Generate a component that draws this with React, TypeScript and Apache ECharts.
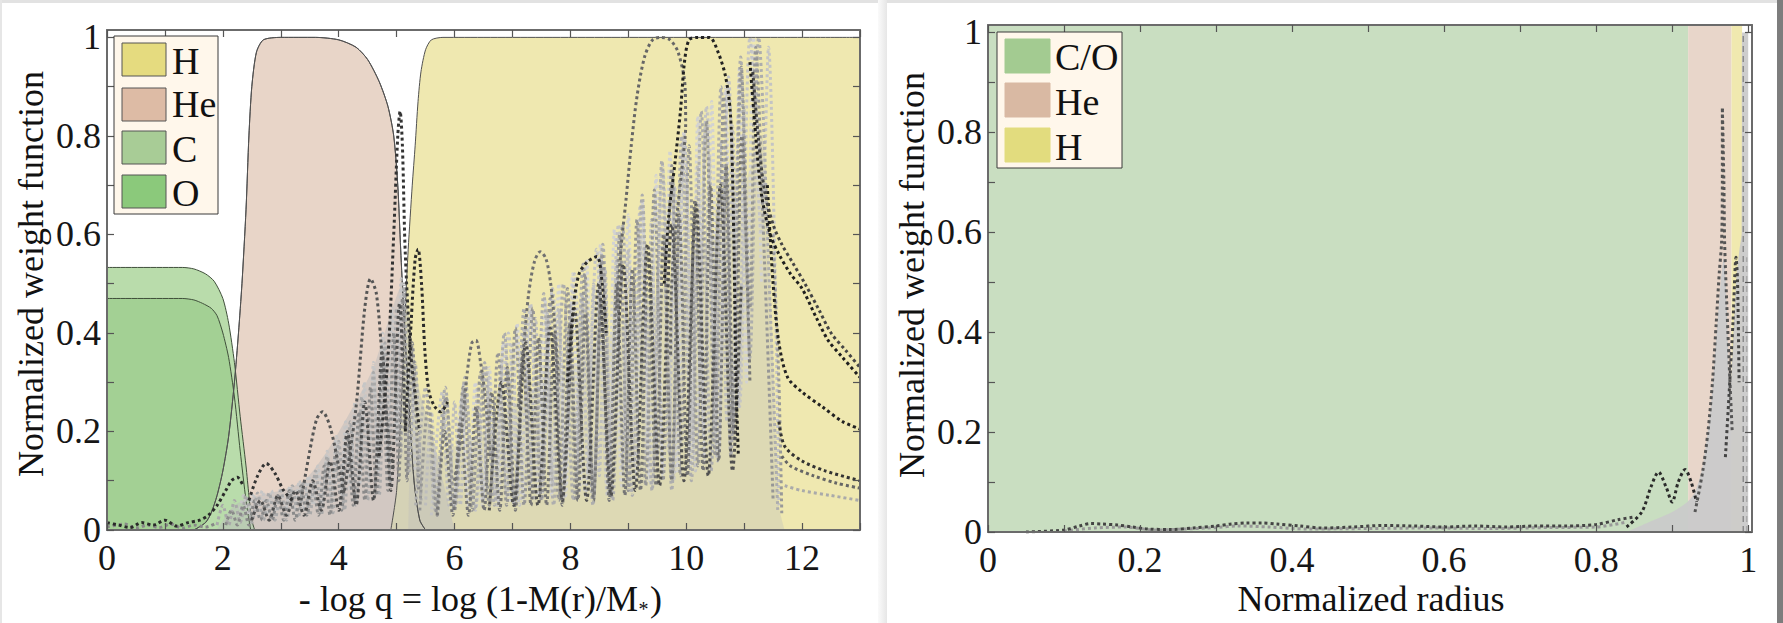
import React, { useEffect, useRef } from "react";
import * as echarts from "echarts";

const FONT = '"Liberation Serif", "Times New Roman", "DejaVu Serif", serif';

// ---------- tick values ----------
const xTicksLeft = [0,1,2,3,4,5,6,7,8,9,10,11,12,13];
const xLabelsLeft = [0,2,4,6,8,10,12];
const tenthTicks = [0,0.1,0.2,0.3,0.4,0.5,0.6,0.7,0.8,0.9,1];
const fifthLabels = [0,0.2,0.4,0.6,0.8,1];

// ---------- Left panel: chemical profiles (x = -log q, y = abundance) ----------
const heProfile = [[1.5,0],[1.7,0.015],[1.8,0.035],[1.9,0.07],[2.0,0.12],[2.1,0.19],[2.2,0.3],[2.27,0.4],[2.33,0.5],[2.4,0.65],[2.45,0.8],[2.5,0.9],[2.58,0.97],[2.7,0.995],[3.0,1.0],[3.6,1.0],[4.0,0.995],[4.3,0.98],[4.5,0.955],[4.7,0.91],[4.85,0.86],[4.95,0.8],[5.02,0.7],[5.07,0.57],[5.12,0.45],[5.2,0.28],[5.3,0.1],[5.4,0.02],[5.5,0]];
const hProfile = [[4.9,0],[5.0,0.08],[5.1,0.3],[5.15,0.45],[5.2,0.57],[5.27,0.7],[5.32,0.78],[5.37,0.87],[5.42,0.93],[5.5,0.975],[5.6,0.995],[5.8,1.0],[13,1.0]];
const cProfile = [[0,0.533],[1.3,0.533],[1.5,0.53],[1.7,0.52],[1.85,0.505],[2.0,0.47],[2.1,0.42],[2.2,0.34],[2.3,0.23],[2.4,0.13],[2.45,0.07],[2.5,0.02],[2.55,0]];
const oProfile = [[0,0.47],[1.3,0.47],[1.5,0.467],[1.65,0.46],[1.8,0.45],[1.9,0.435],[2.0,0.4],[2.1,0.35],[2.2,0.27],[2.3,0.16],[2.4,0.06],[2.48,0]];
const coreOverlap = [[1.5,0],[1.7,0.015],[1.8,0.035],[1.9,0.07],[2.0,0.12],[2.1,0.19],[2.19,0.285],[2.3,0.16],[2.4,0.06],[2.48,0]];

// grey cloud envelopes
const cloudA = [[1.9,0],[2.2,0.05],[2.6,0.07],[3.0,0.08],[3.4,0.1],[3.8,0.16],[4.2,0.24],[4.6,0.33],[4.9,0.44],[5.1,0.5],[5.25,0.4],[5.4,0.28],[5.6,0.2],[5.8,0.1],[6.0,0]];
const cloudB = [[5.2,0],[5.3,0.2],[5.6,0.15],[6.0,0.17],[6.5,0.2],[7.0,0.25],[7.5,0.3],[8.0,0.33],[8.5,0.38],[9.0,0.42],[9.5,0.48],[10.0,0.55],[10.5,0.6],[11.0,0.7],[11.3,0.8],[11.45,0.5],[11.6,0.05],[11.7,0]];

// weight functions, left panel
const wBase = [[0,0.015],[0.2,0.01],[0.4,0.005],[0.6,0.015],[0.8,0.01],[1.0,0.02],[1.2,0.008],[1.4,0.015],[1.6,0.02],[1.75,0.03],[1.9,0.05],[2.05,0.08],[2.15,0.1],[2.25,0.107],[2.35,0.09]];
const wBase2 = [[0,0.006],[0.3,0.012],[0.5,0.004],[0.7,0.01],[0.9,0.005],[1.1,0.012],[1.3,0.004],[1.5,0.01],[1.7,0.006],[1.9,0.015]];
const wA1 = [[1.9,0.01],[2.0,0.05],[2.1,0.01],[2.2,0.06],[2.3,0.015],[2.4,0.07],[2.5,0.015],[2.6,0.075],[2.7,0.02],[2.8,0.075],[2.9,0.02],[3.0,0.08],[3.1,0.02],[3.2,0.09],[3.3,0.025],[3.4,0.1],[3.5,0.03],[3.6,0.12],[3.7,0.03],[3.8,0.15],[3.9,0.035],[4.0,0.18],[4.1,0.04],[4.2,0.22],[4.3,0.05],[4.4,0.27],[4.5,0.06],[4.6,0.32],[4.7,0.07],[4.8,0.38],[4.9,0.09],[5.0,0.45],[5.07,0.15],[5.13,0.5],[5.22,0.12],[5.32,0.34],[5.42,0.06]];
const wA2 = [[2.05,0.01],[2.15,0.04],[2.25,0.01],[2.35,0.05],[2.45,0.01],[2.55,0.06],[2.65,0.02],[2.75,0.06],[2.85,0.02],[2.95,0.07],[3.05,0.02],[3.15,0.08],[3.25,0.02],[3.35,0.09],[3.45,0.03],[3.55,0.1],[3.65,0.03],[3.75,0.13],[3.85,0.03],[3.95,0.16],[4.05,0.04],[4.15,0.19],[4.25,0.05],[4.35,0.24],[4.45,0.06],[4.55,0.29],[4.65,0.07],[4.75,0.34],[4.85,0.08],[4.95,0.4],[5.04,0.1],[5.1,0.47],[5.18,0.1],[5.27,0.38],[5.38,0.08]];
const wA3 = [[2.28,0.03],[2.36,0.07],[2.44,0.03],[2.52,0.075],[2.6,0.03],[2.68,0.08],[2.76,0.03],[2.84,0.08],[2.92,0.03],[3.0,0.085],[3.08,0.04],[3.16,0.09],[3.24,0.04],[3.32,0.1],[3.4,0.04],[3.48,0.11],[3.56,0.05],[3.64,0.13],[3.72,0.05],[3.8,0.16],[3.88,0.06],[3.96,0.19],[4.04,0.07],[4.12,0.22],[4.2,0.08],[4.28,0.26],[4.36,0.09],[4.44,0.3],[4.52,0.1],[4.6,0.34],[4.68,0.12],[4.76,0.4],[4.84,0.14],[4.92,0.45],[5.0,0.18],[5.08,0.51],[5.16,0.2],[5.24,0.36],[5.32,0.12]];
const wA4 = [[2.5,0.02],[2.65,0.06],[2.8,0.02],[2.95,0.07],[3.1,0.03],[3.25,0.08],[3.4,0.03],[3.55,0.1],[3.7,0.04],[3.85,0.14],[4.0,0.04],[4.15,0.2],[4.3,0.05],[4.45,0.26],[4.6,0.06],[4.75,0.36],[4.9,0.08],[5.05,0.46],[5.15,0.2]];
const wHump1 = [[2.45,0.06],[2.6,0.11],[2.75,0.135],[2.9,0.115],[3.05,0.08],[3.2,0.06]];
const wHump2 = [[3.35,0.06],[3.5,0.16],[3.62,0.225],[3.72,0.24],[3.85,0.21],[4.0,0.13],[4.1,0.07]];
const wHump3 = [[4.1,0.08],[4.3,0.25],[4.45,0.45],[4.55,0.51],[4.65,0.48],[4.75,0.35],[4.85,0.2],[4.95,0.12]];
const wSpike5 = [[4.7,0.15],[4.85,0.35],[4.95,0.6],[5.02,0.8],[5.06,0.85],[5.1,0.78],[5.15,0.56],[5.25,0.35],[5.4,0.2]];
const wB1 = [[5.33,0.05],[5.5,0.29],[5.67,0.04],[5.84,0.29],[6.01,0.05],[6.18,0.31],[6.35,0.04],[6.52,0.34],[6.69,0.05],[6.86,0.4],[7.03,0.05],[7.2,0.45],[7.37,0.06],[7.54,0.48],[7.71,0.05],[7.88,0.5],[8.05,0.06],[8.22,0.54],[8.39,0.05],[8.56,0.58],[8.73,0.06],[8.9,0.62],[9.07,0.07],[9.24,0.68],[9.41,0.08],[9.58,0.75],[9.75,0.08],[9.92,0.8],[10.09,0.1],[10.26,0.85],[10.43,0.12],[10.6,0.9],[10.77,0.15],[10.94,0.96],[11.1,0.35],[11.25,1.0],[11.45,0.45],[11.58,0.04]];
const wB2 = [[5.4,0.04],[5.55,0.26],[5.7,0.03],[5.85,0.27],[6.0,0.04],[6.15,0.29],[6.3,0.04],[6.45,0.32],[6.6,0.05],[6.75,0.36],[6.9,0.05],[7.05,0.41],[7.2,0.05],[7.35,0.45],[7.5,0.06],[7.65,0.47],[7.8,0.06],[7.95,0.49],[8.1,0.06],[8.25,0.52],[8.4,0.07],[8.55,0.56],[8.7,0.07],[8.85,0.6],[9.0,0.08],[9.15,0.63],[9.3,0.09],[9.45,0.69],[9.6,0.1],[9.75,0.74],[9.9,0.11],[10.05,0.78],[10.2,0.13],[10.35,0.83],[10.5,0.15],[10.65,0.88],[10.8,0.2],[10.95,0.94],[11.1,0.45],[11.2,0.98],[11.35,0.55],[11.5,0.06]];
const wB3 = [[5.6,0.03],[5.79,0.28],[5.98,0.04],[6.17,0.3],[6.36,0.04],[6.55,0.33],[6.74,0.05],[6.93,0.4],[7.12,0.05],[7.31,0.46],[7.5,0.06],[7.69,0.49],[7.88,0.06],[8.07,0.52],[8.26,0.07],[8.45,0.57],[8.64,0.07],[8.83,0.62],[9.02,0.08],[9.21,0.66],[9.4,0.09],[9.59,0.74],[9.78,0.1],[9.97,0.8],[10.16,0.12],[10.35,0.86],[10.54,0.14],[10.73,0.92],[10.92,0.25],[11.1,1.0],[11.3,0.6],[11.42,0.98],[11.6,0.05]];
const wB4 = [[5.7,0.03],[5.83,0.2],[5.97,0.03],[6.1,0.22],[6.24,0.03],[6.37,0.25],[6.51,0.04],[6.64,0.28],[6.78,0.04],[6.91,0.33],[7.05,0.04],[7.18,0.36],[7.32,0.05],[7.45,0.39],[7.59,0.05],[7.72,0.4],[7.86,0.05],[7.99,0.42],[8.13,0.06],[8.26,0.44],[8.4,0.06],[8.53,0.47],[8.67,0.06],[8.8,0.5],[8.94,0.07],[9.07,0.53],[9.21,0.08],[9.34,0.56],[9.48,0.09],[9.61,0.6],[9.75,0.1],[9.88,0.64],[10.02,0.11],[10.15,0.67],[10.29,0.12],[10.42,0.7],[10.56,0.14],[10.69,0.74],[10.83,0.18],[10.96,0.8],[11.1,0.3]];
const wB5 = [[6.6,0.04],[6.81,0.3],[7.02,0.05],[7.23,0.38],[7.44,0.05],[7.65,0.41],[7.86,0.06],[8.07,0.45],[8.28,0.06],[8.49,0.5],[8.7,0.07],[8.91,0.54],[9.12,0.08],[9.33,0.58],[9.54,0.09],[9.75,0.62],[9.96,0.1],[10.17,0.66],[10.38,0.11],[10.59,0.7],[10.8,0.12],[10.95,0.5]];
const wB6 = [[6.0,0.05],[6.12,0.27],[6.24,0.05],[6.36,0.3],[6.48,0.05],[6.6,0.33],[6.72,0.06],[6.84,0.38],[6.96,0.06],[7.08,0.42],[7.2,0.06],[7.32,0.45],[7.44,0.07],[7.56,0.47],[7.68,0.07],[7.8,0.5],[7.92,0.07],[8.04,0.52],[8.16,0.08],[8.28,0.55],[8.4,0.08],[8.52,0.58],[8.64,0.09],[8.76,0.61],[8.88,0.09],[9.0,0.64],[9.12,0.1],[9.24,0.67],[9.36,0.1],[9.48,0.72],[9.6,0.11],[9.72,0.77],[9.84,0.12],[9.96,0.81],[10.08,0.13],[10.2,0.84],[10.32,0.14],[10.44,0.87],[10.56,0.16],[10.68,0.9],[10.8,0.2],[10.92,0.94],[11.04,0.3],[11.16,1.0],[11.3,0.5]];
const wB7 = [[5.5,0.05],[5.6,0.24],[5.7,0.05],[5.8,0.25],[5.9,0.05],[6.0,0.26],[6.1,0.05],[6.2,0.28],[6.3,0.06],[6.4,0.29],[6.5,0.06],[6.6,0.31],[6.7,0.07],[6.8,0.34],[6.9,0.07],[7.0,0.38],[7.1,0.08],[7.2,0.41],[7.3,0.08],[7.4,0.43],[7.5,0.09],[7.6,0.44],[7.7,0.09],[7.8,0.45],[7.9,0.1],[8.0,0.46],[8.1,0.1],[8.2,0.48],[8.3,0.11],[8.4,0.5],[8.5,0.11],[8.6,0.53],[8.7,0.12],[8.8,0.55],[8.9,0.12],[9.0,0.57],[9.1,0.13],[9.2,0.59],[9.3,0.14],[9.4,0.63],[9.5,0.15],[9.6,0.67],[9.7,0.16],[9.8,0.7],[9.9,0.17],[10.0,0.72],[10.1,0.18],[10.2,0.74],[10.3,0.19],[10.4,0.76],[10.5,0.2],[10.6,0.79],[10.7,0.22],[10.8,0.82],[10.9,0.25],[11.0,0.86]];
const wPeak54 = [[5.15,0.2],[5.25,0.42],[5.32,0.55],[5.37,0.57],[5.43,0.5],[5.49,0.36],[5.56,0.28],[5.66,0.25],[5.76,0.24],[5.88,0.26]];
const wPeak64 = [[6.0,0.1],[6.12,0.2],[6.22,0.32],[6.3,0.38],[6.37,0.385],[6.45,0.34],[6.52,0.28],[6.62,0.15]];
const wPeak75 = [[7.1,0.25],[7.2,0.38],[7.28,0.48],[7.38,0.545],[7.48,0.565],[7.58,0.55],[7.66,0.5],[7.72,0.43],[7.8,0.3]];
const wPeak84 = [[7.95,0.3],[8.05,0.45],[8.15,0.52],[8.3,0.545],[8.46,0.555],[8.55,0.5],[8.62,0.4]];
const wArch1 = [[8.8,0.45],[8.88,0.58],[8.96,0.67],[9.05,0.78],[9.15,0.88],[9.28,0.96],[9.42,0.995],[9.57,1.0],[9.72,0.995],[9.86,0.97],[9.98,0.9],[9.99,0.82],[9.93,0.74],[9.85,0.65],[9.78,0.56],[9.74,0.47],[9.73,0.35]];
const wArch2 = [[9.62,0.5],[9.7,0.64],[9.8,0.74],[9.9,0.85],[9.97,0.95],[10.05,0.995],[10.2,1.0],[10.4,1.0],[10.55,0.97],[10.68,0.92],[10.76,0.85],[10.8,0.72],[10.82,0.6],[10.84,0.45],[10.86,0.3],[10.9,0.15]];
const wTail1 = [[11.1,0.95],[11.2,0.8],[11.3,0.68],[11.45,0.6],[11.6,0.56],[11.8,0.52],[12.0,0.49],[12.25,0.43],[12.45,0.385],[12.7,0.35],[13.0,0.31]];
const wTail1b = [[11.15,0.93],[11.25,0.79],[11.35,0.69],[11.5,0.62],[11.65,0.58],[11.85,0.54],[12.05,0.5],[12.3,0.445],[12.5,0.4],[12.75,0.365],[13.0,0.33]];
const wTail2 = [[11.4,0.7],[11.5,0.5],[11.6,0.38],[11.75,0.31],[12.0,0.28],[12.35,0.25],[12.7,0.22],[13.0,0.205]];
const wTail3 = [[11.6,0.22],[11.7,0.17],[12.0,0.14],[12.4,0.12],[13.0,0.1]];
const wTail4 = [[11.65,0.15],[11.8,0.13],[12.2,0.11],[12.6,0.095],[13.0,0.085]];
const wTail5 = [[11.7,0.09],[12.0,0.08],[12.5,0.07],[13.0,0.06]];
const wEdge = [[11.5,0.6],[11.55,0.45],[11.6,0.3],[11.63,0.15],[11.65,0.03]];

// ---------- Right panel (x = normalized radius) ----------
const coZone = [[0,1.015],[0.921,1.015]];
const heZone = [[0.921,1.015],[0.978,1.015]];
const hZone = [[0.978,1.015],[0.992,1.015]];
const rCloud = [[0.84,0],[0.87,0.02],[0.9,0.04],[0.92,0.06],[0.93,0.08],[0.94,0.13],[0.95,0.24],[0.955,0.33],[0.96,0.43],[0.965,0.52],[0.968,0.55],[0.972,0.45],[0.976,0.27],[0.98,0.38],[0.984,0.5],[0.988,0.56],[0.9915,0.6],[0.992,1.0],[1.0,1.0]];
const rBase1 = [[0.05,0.0],[0.1,0.004],[0.12,0.012],[0.135,0.017],[0.15,0.016],[0.17,0.014],[0.19,0.01],[0.21,0.006],[0.24,0.005],[0.27,0.008],[0.3,0.012],[0.32,0.016],[0.34,0.018],[0.36,0.018],[0.38,0.016],[0.41,0.012],[0.44,0.008],[0.48,0.01],[0.52,0.013],[0.56,0.012],[0.6,0.01],[0.64,0.012],[0.68,0.01],[0.72,0.012],[0.76,0.012],[0.8,0.015],[0.83,0.025],[0.85,0.03]];
const rBase2 = [[0.1,0.002],[0.14,0.008],[0.18,0.01],[0.22,0.004],[0.26,0.006],[0.3,0.009],[0.33,0.012],[0.37,0.01],[0.42,0.006],[0.5,0.007],[0.58,0.008],[0.66,0.007],[0.74,0.009],[0.8,0.01],[0.84,0.02]];
const rHumps = [[0.84,0.01],[0.86,0.04],[0.872,0.09],[0.882,0.12],[0.892,0.09],[0.9,0.06],[0.908,0.1],[0.917,0.125],[0.925,0.1],[0.932,0.06]];
const rSpike = [[0.93,0.04],[0.94,0.12],[0.947,0.2],[0.953,0.3],[0.958,0.42],[0.962,0.52],[0.965,0.58],[0.966,0.7],[0.966,0.85],[0.968,0.7],[0.969,0.58],[0.972,0.45],[0.976,0.3],[0.979,0.2]];
const rNear = [[0.97,0.15],[0.975,0.28],[0.98,0.42],[0.984,0.55],[0.986,0.5],[0.988,0.3]];
const rEdge = [[0.9935,0.0],[0.9935,1.0]];
const rEdge2 = [[0.998,0.0],[0.998,0.55]];

const leftLegend = [
  { name: "H", color: "#E5DB7F" },
  { name: "He", color: "#DDBBA5" },
  { name: "C", color: "#A8CC96" },
  { name: "O", color: "#8BC97B" },
];
const rightLegend = [
  { name: "C/O", color: "#A3CB91" },
  { name: "He", color: "#D9B9A3" },
  { name: "H", color: "#E2DC7E" },
];

const evenFmt = (v: number) => (Math.abs(v - Math.round(v)) < 1e-6 && Math.round(v) % 2 === 0 && v < 12.5 ? String(Math.round(v)) : "");
const tenthFmt = (v: number) => {
  const k = Math.round(v * 10);
  if (Math.abs(v * 10 - k) > 1e-6 || k % 2 !== 0 || k > 10) return "";
  return k === 0 ? "0" : k === 10 ? "1" : "0." + k;
};

const TICK_FONT = 36;

function mkX(g: number, max: number, interval: number, position: string, labels: boolean, fmt: any, ticks: number[], labelVals: number[]) {
  return {
    type: "value", gridIndex: g, min: 0, max, interval, position, z: 10,
    axisLine: { show: true, onZero: false, lineStyle: { color: "#6b6b6b", width: 2 } },
    axisTick: { show: true, inside: true, length: 7, customValues: ticks, lineStyle: { color: "#555", width: 1.2 } },
    axisLabel: { show: labels, formatter: fmt, customValues: labelVals, fontFamily: FONT, fontSize: TICK_FONT, lineHeight: 36, color: "#161616", margin: 10 },
    splitLine: { show: false },
  };
}
function mkY(g: number, position: string, labels: boolean) {
  return {
    type: "value", gridIndex: g, min: 0, max: 1.015, interval: 0.1, position, z: 10,
    axisLine: { show: true, onZero: false, lineStyle: { color: "#6b6b6b", width: 2 } },
    axisTick: { show: true, inside: true, length: 7, customValues: tenthTicks, lineStyle: { color: "#555", width: 1.2 } },
    axisLabel: { show: labels, formatter: tenthFmt, customValues: fifthLabels, fontFamily: FONT, fontSize: TICK_FONT, color: "#161616", margin: 6 },
    splitLine: { show: false },
  };
}

function fill(data: any, color: string, ax: number, edge?: string, opacity = 1) {
  return {
    type: "line", data, xAxisIndex: ax, yAxisIndex: ax, symbol: "none", showSymbol: false,
    smooth: 0.25, silent: true,
    lineStyle: edge ? { color: edge, width: 1 } : { width: 0, opacity: 0 },
    areaStyle: { color, opacity },
  };
}
function edgeLine(data: any, color: string, ax: number) {
  return {
    type: "line", data, xAxisIndex: ax, yAxisIndex: ax, symbol: "none", showSymbol: false,
    smooth: 0.25, silent: true, lineStyle: { color, width: 1 },
  };
}
function dot(data: any, color: string, ax: number, width = 3, smooth = 0.3) {
  return {
    type: "line", data, xAxisIndex: ax, yAxisIndex: ax, symbol: "none", showSymbol: false,
    smooth, silent: true, lineStyle: { color, width, type: "dotted" },
  };
}

function legendEls(x: number, y: number, w: number, h: number, sx: number, sw: number, tops: number[], sh: number, tx: number, items: any[], border: boolean, texty: number[]) {
  const els: any[] = [
    { type: "rect", shape: { x, y, width: w, height: h }, style: { fill: "#FFF7EB", stroke: "#3a3a3a", lineWidth: 1 }, z: 100 },
  ];
  items.forEach((it, i) => {
    els.push({ type: "rect", shape: { x: sx, y: tops[i], width: sw, height: sh }, style: { fill: it.color, stroke: border ? "#555" : it.color, lineWidth: 1 }, z: 101 });
    els.push({ type: "text", x: tx, y: texty[i], style: { text: it.name, font: `38px ${FONT}`, fill: "#111", textAlign: "left", textVerticalAlign: "middle" }, z: 101 });
  });
  return els;
}

export default function App() {
  const ref = useRef<HTMLDivElement>(null);
  useEffect(() => {
    document.body.style.margin = "0";
    if (!ref.current) return;
    const chart = echarts.init(ref.current, null, { renderer: "svg" });
    const L = 0, R = 2;
    const option: any = {
      animation: false,
      backgroundColor: "#ffffff",
      grid: [
        { left: 107, top: 30, width: 753, height: 500 },
        { left: 988, top: 25, width: 764, height: 507 },
      ],
      xAxis: [
        mkX(0, 13, 1, "bottom", true, evenFmt, xTicksLeft, xLabelsLeft),
        mkX(0, 13, 1, "top", false, evenFmt, xTicksLeft, xLabelsLeft),
        mkX(1, 1.005, 0.1, "bottom", true, tenthFmt, tenthTicks, fifthLabels),
        mkX(1, 1.005, 0.1, "top", false, tenthFmt, tenthTicks, fifthLabels),
      ],
      yAxis: [mkY(0, "left", true), mkY(0, "right", false), mkY(1, "left", true), mkY(1, "right", false)],
      series: [
        fill(heProfile, "#E8D5C8", L, "#505050"),
        fill(hProfile, "#EFE8B0", L, "#505050"),
        fill(cProfile, "#B9DCAB", L, "#3f4f3a"),
        fill(oProfile, "#A3D094", L, "#3f4f3a"),
        fill(coreOverlap, "#B9DCAB", L),
        edgeLine(heProfile, "#505050", L),
        fill(cloudA, "#bcbcbc", L, undefined, 0.5),
        fill(cloudB, "#bcbcbc", L, undefined, 0.35),
        dot(wBase2, "#888", L),
        dot(wBase, "#2a2a2a", L),
        dot(wA3, "#c6c6c6", L),
        dot(wA1, "#a9a9a9", L),
        dot(wA2, "#8a8a8a", L),
        dot(wA4, "#4d4d4d", L),
        dot(wHump1, "#333", L),
        dot(wHump2, "#555", L),
        dot(wHump3, "#555", L),
        dot(wSpike5, "#333", L),
        dot(wB6, "#d2d2d2", L),
        dot(wB7, "#bdbdbd", L),
        dot(wB3, "#c4c4c4", L),
        dot(wB1, "#adadad", L),
        dot(wB2, "#969696", L),
        dot(wB4, "#767676", L),
        dot(wB5, "#505050", L),
        dot(wPeak54, "#2a2a2a", L),
        dot(wPeak64, "#707070", L),
        dot(wPeak75, "#707070", L),
        dot(wPeak84, "#2a2a2a", L),
        dot(wArch1, "#666", L),
        dot(wArch2, "#222", L),
        dot(wEdge, "#999", L),
        dot(wTail5, "#aaa", L),
        dot(wTail4, "#666", L),
        dot(wTail3, "#333", L),
        dot(wTail2, "#222", L),
        dot(wTail1b, "#444", L),
        dot(wTail1, "#1e1e1e", L),
        // right panel
        fill(coZone, "#C9DEC1", R),
        fill(heZone, "#E8D6CA", R),
        fill(hZone, "#F0E9AF", R),
        fill(rCloud, "#cacaca", R, undefined, 0.95),
        dot(rBase2, "#999", R),
        dot(rBase1, "#444", R),
        dot(rHumps, "#2a2a2a", R),
        dot(rSpike, "#555", R),
        dot(rNear, "#444", R),
        { ...dot(rEdge, "#8a8a8a", R, 1.5, 0), lineStyle: { color: "#8a8a8a", width: 1.5, type: [6, 4] } },
        { ...dot(rEdge2, "#aaa", R, 1.5, 0), lineStyle: { color: "#aaa", width: 1.5, type: [6, 4] } },
      ],
      graphic: {
        elements: [
          { type: "rect", shape: { x: 0, y: 0, width: 1783, height: 3 }, style: { fill: "#e2e2e2" }, z: 0 },
          { type: "rect", shape: { x: 0, y: 0, width: 2, height: 623 }, style: { fill: "#e6e6e6" }, z: 0 },
          {
            type: "rect", shape: { x: 878, y: 0, width: 9, height: 623 },
            style: { fill: new echarts.graphic.LinearGradient(0, 0, 1, 0, [{ offset: 0, color: "#fafafa" }, { offset: 1, color: "#e6e6e6" }]) }, z: 0,
          },
          { type: "rect", shape: { x: 1777, y: 0, width: 6, height: 623 }, style: { fill: "#7d7d7d" }, z: 0 },
          ...legendEls(114, 36, 104, 178, 122, 44, [43, 88, 131, 175], 33, 172, leftLegend, true, [61, 104, 149, 193]),
          ...legendEls(997, 32, 125, 136, 1005, 45, [39, 83, 128], 34, 1055, rightLegend, false, [57, 102, 147]),
          { type: "text", x: 31, y: 274, rotation: Math.PI / 2, style: { text: "Normalized weight function", font: `36px ${FONT}`, fill: "#111", textAlign: "center", textVerticalAlign: "middle" }, z: 50 },
          { type: "text", x: 912, y: 275, rotation: Math.PI / 2, style: { text: "Normalized weight function", font: `36px ${FONT}`, fill: "#111", textAlign: "center", textVerticalAlign: "middle" }, z: 50 },
          { type: "text", x: 638, y: 599, style: { text: "- log q = log (1-M(r)/M", font: `36px ${FONT}`, lineHeight: 34, fill: "#111", textAlign: "right", textVerticalAlign: "middle" }, z: 50 },
          { type: "text", x: 643.5, y: 609, style: { text: "*", font: `20px ${FONT}`, lineHeight: 14, fill: "#111", textAlign: "center", textVerticalAlign: "middle" }, z: 50 },
          { type: "text", x: 650, y: 599, style: { text: ")", font: `36px ${FONT}`, lineHeight: 34, fill: "#111", textAlign: "left", textVerticalAlign: "middle" }, z: 50 },
          { type: "text", x: 1371, y: 599, style: { text: "Normalized radius", font: `36px ${FONT}`, lineHeight: 34, fill: "#111", textAlign: "center", textVerticalAlign: "middle" }, z: 50 },
        ],
      },
    };
    chart.setOption(option);
    return () => chart.dispose();
  }, []);
  return <div ref={ref} style={{ width: 1783, height: 623, background: "#fff" }} />;
}
